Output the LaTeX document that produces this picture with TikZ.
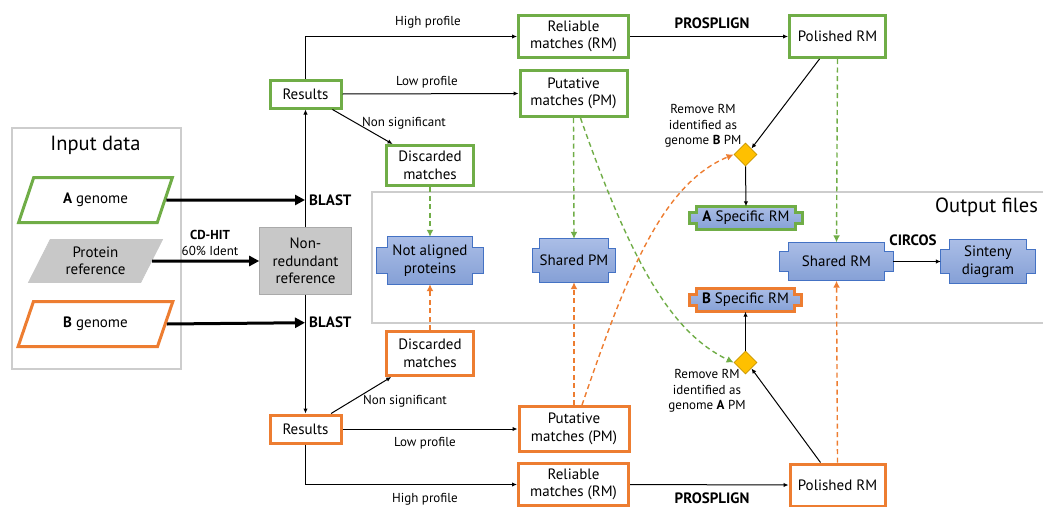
\documentclass[tikz,border=0pt]{standalone}
\usepackage{fontspec}
\setmainfont{PT Sans}
\usetikzlibrary{shapes.geometric, arrows.meta, backgrounds}

\definecolor{agreen}{RGB}{112,173,71}
\definecolor{borange}{RGB}{237,125,49}
\definecolor{outtop}{RGB}{170,189,230}
\definecolor{outbottom}{RGB}{133,160,214}
\definecolor{outedge}{RGB}{68,114,196}
\definecolor{refgray}{RGB}{200,200,200}
\definecolor{refedge}{RGB}{170,170,170}
\definecolor{framegray}{RGB}{205,205,205}
\definecolor{diamondfill}{RGB}{255,192,0}
\definecolor{diamondedge}{RGB}{200,150,0}

\begin{document}
\begin{tikzpicture}[
  x=1pt, y=-1pt,
  every node/.style={inner sep=0pt, align=center, font=\fontsize{15}{17.5}\selectfont},
  stepbox/.style={rectangle, draw=#1, line width=3pt, fill=white},
  genome/.style={trapezium, trapezium left angle=60, trapezium right angle=120,
    trapezium stretches=true, draw=#1, line width=3pt, fill=white,
    minimum width=155, minimum height=45},
  outfile/.style={rectangle},
  decision/.style={diamond, draw=diamondedge, fill=diamondfill, line width=0.8pt,
    minimum width=23, minimum height=23},
  note/.style={font=\fontsize{13}{15.5}\selectfont},
  heading/.style={font=\fontsize{20.5}{24}\selectfont},
  tool/.style={font=\fontsize{15}{17}\selectfont\bfseries},
  arrow/.style={-{Latex[length=5pt,width=4.5pt]}, line width=1pt},
  feed/.style={-{Triangle[length=10pt,width=10pt]}, line width=3pt},
  link/.style={draw=#1, line width=1.4pt, dash pattern=on 5pt off 3.5pt,
    -{Latex[length=7pt,width=7pt]}}
]
\useasboundingbox (0,0) rectangle (1043,506);

% input data
\node[heading] (intitle) at (95.5,145) {Input data};
\node[genome=agreen] (agen) at (95.5,200) {{\bfseries A} genome};
\node[genome=refgray, fill=refgray, line width=0.6pt, minimum width=135, minimum height=43,
  trapezium left angle=63, trapezium right angle=117] (prot) at (95.5,261) {Protein\\reference};
\node[genome=borange] (bgen) at (95.5,324) {{\bfseries B} genome};
\node[rectangle, fill=refgray, draw=refedge, line width=0.6pt, minimum width=92,
  minimum height=67] (nonred) at (305.5,261) {Non-\\redundant\\reference};
\node[note] (cdhit) at (210,243) {{\bfseries CD-HIT}\\60\% Ident};
\coordinate (ja) at (305,200);
\coordinate (jb) at (305,322.7);
\node[tool, anchor=west] (blasta) at (309,200) {BLAST};
\node[tool, anchor=west] (blastb) at (309,322.7) {BLAST};

% genome A branch
\node[stepbox=agreen, minimum width=71, minimum height=28] (resa) at (305.5,94) {Results};
\node[stepbox=agreen, minimum width=110, minimum height=42] (rela) at (573.5,36.5) {Reliable\\matches (RM)};
\node[stepbox=agreen, minimum width=107, minimum height=46] (puta) at (573.5,93.5) {Putative\\matches (PM)};
\node[stepbox=agreen, minimum width=87, minimum height=40] (disa) at (430,165.5) {Discarded\\matches};
\node[stepbox=agreen, minimum width=96, minimum height=42] (pola) at (837.5,36.5) {Polished RM};
\node[decision] (dia) at (745.5,154.5) {};
\node[note] (rema) at (703,126) {Remove RM\\identified as\\genome {\bfseries B} PM};

% genome B branch
\node[stepbox=borange, minimum width=71, minimum height=28] (resb) at (305.5,429) {Results};
\node[stepbox=borange, minimum width=110, minimum height=42] (relb) at (573.5,484.5) {Reliable\\matches (RM)};
\node[stepbox=borange, minimum width=110, minimum height=45] (putb) at (574,429) {Putative\\matches (PM)};
\node[stepbox=borange, minimum width=87, minimum height=44] (disb) at (430,353.5) {Discarded\\matches};
\node[stepbox=borange, minimum width=95, minimum height=42] (polb) at (837.5,485) {Polished RM};
\node[decision] (dib) at (745.5,362.5) {};
\node[note] (remb) at (707,391) {Remove RM\\identified as\\genome {\bfseries A} PM};

% output files
\node[heading, anchor=west] (outtitle) at (935,207) {Output files};
\node[outfile, minimum width=106, minimum height=47] (nap) at (430,260.5) {Not aligned\\proteins};
\node[outfile, minimum width=82, minimum height=43] (shpm) at (574,260.5) {Shared PM};
\node[outfile, minimum width=112, minimum height=23] (speca) at (746,218) {{\bfseries A} Specific RM};
\node[outfile, minimum width=112, minimum height=23] (specb) at (745.5,300) {{\bfseries B} Specific RM};
\node[outfile, minimum width=113, minimum height=38] (shrm) at (836.5,261.5) {Shared RM};
\node[outfile, minimum width=94, minimum height=43] (sint) at (988,261.5) {Sinteny\\diagram};

% labels
\node[note] (hpa) at (428,22) {High profile};
\node[note] (lpa) at (427,82) {Low profile};
\node[note] (nsa) at (404,123) {Non significant};
\node[note] (hpb) at (425,499) {High profile};
\node[note] (lpb) at (425,443) {Low profile};
\node[note] (nsb) at (405,401) {Non significant};
\node[tool] (psa) at (712,23) {PROSPLIGN};
\node[tool] (psb) at (712,498) {PROSPLIGN};
\node[tool] (circ) at (913,240) {CIRCOS};

% connectors
\draw[feed] (agen.east) -- (ja);
\draw[feed] (bgen.east) -- (jb);
\draw[feed] (prot.east) -- (nonred.west);
\draw[arrow] (nonred.north) -- (resa.south);
\draw[arrow] (nonred.south) -- (resb.north);

\draw[arrow] (resa.north) |- (rela.west);
\draw[arrow] (resa.east) -- (puta.west);
\draw[arrow] (resa) -- (disa);
\draw[arrow] (rela.east) -- (pola.west);
\draw[arrow] ([xshift=-18pt]pola.south) -- (dia.north east);
\draw[arrow] (dia.south) -- (speca.north);

\draw[arrow] (resb.south) |- (relb.west);
\draw[arrow] (resb.east) -- (putb.west);
\draw[arrow] (resb) -- (disb);
\draw[arrow] (relb.east) -- (polb.west);
\draw[arrow] ([xshift=-17pt]polb.north) -- (dib.south east);
\draw[arrow] (dib.north) -- (specb.south);

\draw[arrow] (shrm.east) -- (sint.west);

\draw[link=agreen] (disa.south) -- (nap.north);
\draw[link=agreen] (puta.south) -- (shpm.north);
\draw[link=agreen] (pola.south) -- (shrm.north);
\draw[link=agreen] ([xshift=7pt]puta.south) .. controls (632,265) and (672,333) .. (dib.west);

\draw[link=borange] (disb.north) -- (nap.south);
\draw[link=borange] (putb.north) -- (shpm.south);
\draw[link=borange] (polb.north) -- (shrm.south);
\draw[link=borange] ([xshift=8pt]putb.north) .. controls (625,280) and (660,185) .. (dia.west);

% frames and output shapes
\begin{scope}[on background layer]
\draw[framegray, line width=1.3pt] (12,128) rectangle (181,369);
\draw[framegray, line width=1.3pt] (1050,192) -- (372,192) -- (372,323) -- (1050,323);
\foreach \n/\c/\w/\sx/\sy in {nap/outedge/0.9pt/11/11, shpm/outedge/0.9pt/7/10,
    shrm/outedge/0.9pt/9/9, sint/outedge/0.9pt/9/10,
    speca/agreen/3pt/7/6, specb/borange/3pt/7/6}
  \draw[draw=\c, line width=\w, top color=outtop, bottom color=outbottom]
    ([xshift=\sx]\n.north west) -- ([xshift=-\sx]\n.north east) -- ++(0,\sy) -- ++(\sx,0)
    -- ([yshift=\sy]\n.south east) -- ++(-\sx,0) -- ++(0,\sy)
    -- ([xshift=\sx]\n.south west) -- ++(0,-\sy) -- ++(-\sx,0)
    -- ([yshift=-\sy]\n.north west) -- ++(\sx,0) -- cycle;
\end{scope}
\end{tikzpicture}
\end{document}
